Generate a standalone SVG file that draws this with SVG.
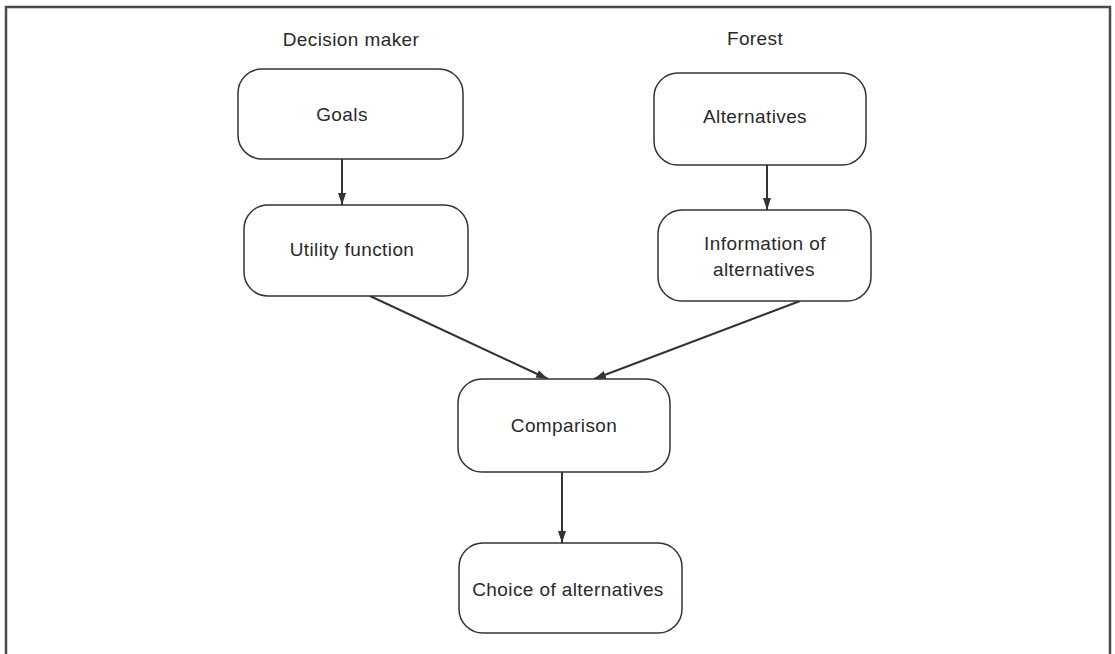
<svg xmlns="http://www.w3.org/2000/svg" width="1115" height="654" viewBox="0 0 1115 654">
  <style>
    .box { fill: #ffffff; stroke: #333333; stroke-width: 1.5; }
    .lbl { font-family: "Liberation Sans", Arial, sans-serif; font-size: 19px; fill: #2a2a2a; text-anchor: middle; letter-spacing: 0.4px; }
    .edge { stroke: #333333; stroke-width: 2; fill: none; marker-end: url(#arrow); }
  </style>
  <defs>
    <marker id="arrow" viewBox="0 0 12 8" refX="12" refY="4" markerWidth="12" markerHeight="8" orient="auto" markerUnits="userSpaceOnUse">
      <path d="M0,0 L12,4 L0,8 z" fill="#333333"/>
    </marker>
  </defs>
  <rect x="0" y="0" width="1115" height="654" fill="#ffffff"/>
  <!-- outer frame, open at the bottom -->
  <path d="M6,654 L6,7 L1110,7 L1110,654" fill="none" stroke="#4a4a4a" stroke-width="2.5"/>

  <text class="lbl" x="351" y="46">Decision maker</text>
  <text class="lbl" x="755" y="45">Forest</text>

  <g id="connectors">
    <line class="edge" x1="342" y1="159" x2="342" y2="205"/>
    <line class="edge" x1="767" y1="165" x2="767" y2="210"/>
    <line class="edge" x1="370" y1="296" x2="548" y2="379"/>
    <line class="edge" x1="800" y1="301" x2="594" y2="379"/>
    <line class="edge" x1="562" y1="472" x2="562" y2="543"/>
  </g>

  <g id="goals">
    <rect class="box" x="238" y="69" width="225" height="90" rx="24"/>
    <text class="lbl" x="342" y="121">Goals</text>
  </g>
  <g id="utility">
    <rect class="box" x="244" y="205" width="224" height="91" rx="24"/>
    <text class="lbl" x="352" y="256">Utility function</text>
  </g>
  <g id="alternatives">
    <rect class="box" x="654" y="73" width="212" height="92" rx="24"/>
    <text class="lbl" x="755" y="123">Alternatives</text>
  </g>
  <g id="information">
    <rect class="box" x="658" y="210" width="213" height="91" rx="24"/>
    <text class="lbl" x="765" y="250">Information of</text>
    <text class="lbl" x="764" y="276">alternatives</text>
  </g>
  <g id="comparison">
    <rect class="box" x="458" y="379" width="212" height="93" rx="24"/>
    <text class="lbl" x="564" y="432">Comparison</text>
  </g>
  <g id="choice">
    <rect class="box" x="459" y="543" width="223" height="90" rx="24"/>
    <text class="lbl" x="568" y="596">Choice of alternatives</text>
  </g>
</svg>
